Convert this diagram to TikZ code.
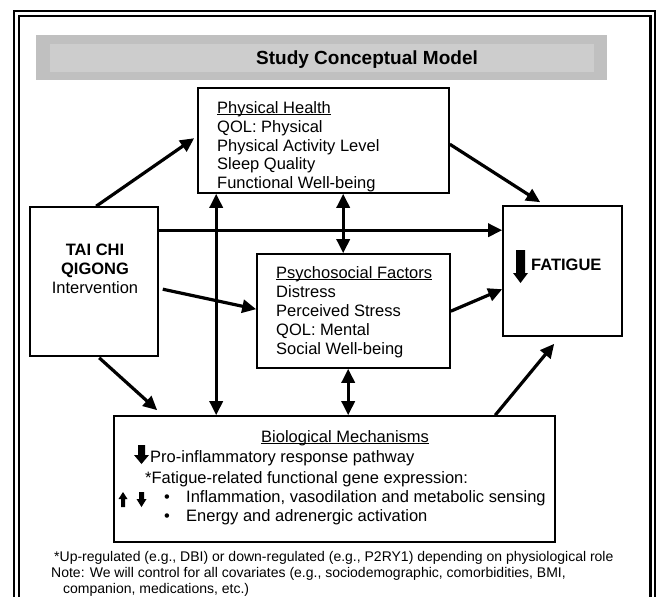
\documentclass[tikz,border=0pt]{standalone}
\usepackage{fontspec}
\setmainfont{Liberation Sans}
\usetikzlibrary{arrows.meta,calc}
\definecolor{bannerout}{RGB}{192,192,192}
\definecolor{bannerin}{RGB}{205,205,205}
\newcommand{\myul}[1]{\setbox0\hbox{#1}\rlap{\rule[-2.4pt]{\wd0}{1.2pt}}\box0}
\tikzset{
  box/.style={draw, line width=1.6pt, inner sep=0pt, fill=white},
  txt/.style={anchor=base west, inner sep=0pt, font=\fontsize{16.5}{19}\selectfont},
  ctxt/.style={anchor=base, inner sep=0pt, font=\fontsize{16.5}{19}\selectfont},
  note/.style={anchor=base west, inner sep=0pt, font=\fontsize{14}{16}\selectfont},
  arr/.style={line width=3.2pt, -{Triangle[length=14pt,width=13pt]}},
  darr/.style={line width=3.2pt, {Triangle[length=14pt,width=13pt]}-{Triangle[length=14pt,width=13pt]}}
}
\begin{document}
\begin{tikzpicture}[x=1pt,y=-1pt]
\useasboundingbox (0,0) rectangle (656,597);
\clip (0,0) rectangle (656,597);
\fill[white] (0,0) rectangle (656,597);
% frame
\draw[line width=2pt] (14,11) rectangle (655,640);
\draw[line width=2.5pt] (19,16) rectangle (650.5,640);
% banner
\fill[bannerout] (36,35) rectangle (607,80);
\fill[bannerin] (50,44) rectangle (594,72);
\node[anchor=base west, inner sep=0pt, font=\bfseries\fontsize{19}{22}\selectfont] (title) at (256,64) {Study Conceptual Model};
% boxes
\node[box, minimum width=251pt, minimum height=105pt] (ph) at (323.5,140.5) {};
\node[box, minimum width=128pt, minimum height=149pt] (tc) at (94,281.5) {};
\node[box, minimum width=119pt, minimum height=130pt] (fat) at (562.5,271) {};
\node[box, minimum width=193pt, minimum height=114pt] (ps) at (353.5,311) {};
\node[box, minimum width=441pt, minimum height=126pt] (bio) at (334.5,479) {};
% physical health text
\node[txt] (ph1) at (217,113) {\myul{Physical Health}};
\node[txt] (ph2) at (217,132) {QOL: Physical};
\node[txt] (ph3) at (217,151) {Physical Activity Level};
\node[txt] (ph4) at (217,169.5) {Sleep Quality};
\node[txt] (ph5) at (217,188) {Functional Well-being};
% tai chi text
\node[ctxt, font=\bfseries\fontsize{16.5}{19}\selectfont] (tc1) at (95,255) {TAI CHI};
\node[ctxt, font=\bfseries\fontsize{16.5}{19}\selectfont] (tc2) at (95,274) {QIGONG};
\node[ctxt] (tc3) at (95,293) {Intervention};
% fatigue
\fill (516,250) -- (525,250) -- (525,273) -- (528,273) -- (520.5,283) -- (513,273) -- (516,273) -- cycle;
\node[txt, font=\bfseries\fontsize{16.5}{19}\selectfont] (fat1) at (531,270) {FATIGUE};
% psychosocial text
\node[txt] (ps1) at (276,278) {\myul{Psychosocial Factors}};
\node[txt] (ps2) at (276,297) {Distress};
\node[txt] (ps3) at (276,316) {Perceived Stress};
\node[txt] (ps4) at (276,335) {QOL: Mental};
\node[txt] (ps5) at (276,354) {Social Well-being};
% biological text
\node[txt] (b1) at (261,442) {\myul{Biological Mechanisms}};
\fill (138,445) -- (145,445) -- (145,455) -- (149,455) -- (141.5,464) -- (134,455) -- (138,455) -- cycle;
\node[txt] (b2) at (150,462) {Pro-inflammatory response pathway};
\node[txt] (b3) at (145,483) {*Fatigue-related functional gene expression:};
\fill (123,492) -- (127.5,499) -- (125,499) -- (125,507) -- (121,507) -- (121,499) -- (118.5,499) -- cycle;
\fill (139,492) -- (144,492) -- (144,499) -- (146.5,499) -- (141.5,507) -- (136.5,499) -- (139,499) -- cycle;
\node[txt] (b4a) at (164,502) {•};
\node[txt] (b4) at (186,502) {Inflammation, vasodilation and metabolic sensing};
\node[txt] (b5a) at (164,521) {•};
\node[txt] (b5) at (186,521) {Energy and adrenergic activation};
% notes
\node[note] (n1) at (54,561) {*Up-regulated (e.g., DBI) or down-regulated (e.g., P2RY1) depending on physiological role};
\node[note] (n2) at (51,577) {Note: We will control for all covariates (e.g., sociodemographic, comorbidities, BMI,};
\node[note] (n3) at (63,593) {companion, medications, etc.)};
% connectors
\draw[arr] ($(tc.north west)+(67,0)$) -- ($(ph.north west)+(-3,51)$);
\draw[arr] ($(ph.north east)+(0,57)$) -- ($(fat.north west)+(38,-3)$);
\draw[arr] ($(tc.north east)+(0,24)$) -- ($(fat.north west)+(0,25)$);
\draw[arr] ($(tc.north east)+(4,83)$) -- ($(ps.north west)+(0,56)$);
\draw[arr] ($(tc.south west)+(70,1)$) -- ($(bio.north west)+(44,-5)$);
\draw[darr] ($(ph.south west)+(19,0)$) -- ($(bio.north west)+(103,0)$);
\draw[darr] ($(ph.south west)+(146,0)$) -- ($(ps.north west)+(87,0)$);
\draw[darr] ($(ps.south west)+(92,0)$) -- ($(bio.north west)+(235,0)$);
\draw[arr] ($(ps.north east)+(0,58)$) -- ($(fat.north west)+(0,84)$);
\draw[arr] ($(bio.north west)+(382,0)$) -- ($(fat.south west)+(52,7)$);
\end{tikzpicture}
\end{document}
